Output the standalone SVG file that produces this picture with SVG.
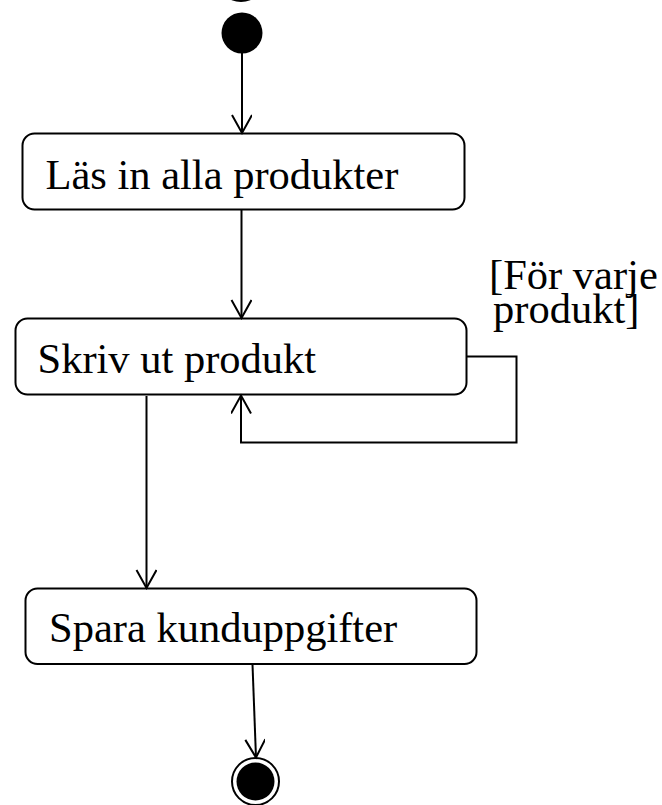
<svg xmlns="http://www.w3.org/2000/svg" width="662" height="805" viewBox="0 0 662 805">
<style>
.box{fill:#fff;stroke:#000;stroke-width:2}
.lbl{font-family:"Liberation Serif","Times New Roman",serif;font-size:42.5px;fill:#000}
.edge{fill:none;stroke:#000;stroke-width:2}
</style>
<defs>
<marker id="arr" markerWidth="24" markerHeight="24" refX="20" refY="10" orient="auto" markerUnits="userSpaceOnUse" viewBox="0 0 24 24">
<path d="M2,0 L20,10 L2,20" fill="none" stroke="#000" stroke-width="2"/>
</marker>
</defs>
<rect width="662" height="805" fill="#fff"/>
<g id="top-fragment"><circle cx="241" cy="-22" r="24" fill="#000"/></g>
<g id="start"><circle cx="242" cy="33" r="20.5" fill="#000"/></g>
<g id="n1">
<rect class="box" x="22.5" y="133.5" width="442" height="76" rx="12"/>
<text class="lbl" x="45.5" y="188.5">Läs in alla produkter</text>
</g>
<g id="n2">
<rect class="box" x="15.5" y="318.5" width="451" height="76" rx="12"/>
<text class="lbl" x="37.5" y="372.5">Skriv ut produkt</text>
</g>
<g id="n3">
<rect class="box" x="25.5" y="588.5" width="451" height="75.5" rx="12"/>
<text class="lbl" x="49" y="641.5">Spara kunduppgifter</text>
</g>
<g id="end">
<circle cx="255.5" cy="781.5" r="23.5" fill="#fff" stroke="#000" stroke-width="2"/>
<circle cx="255.5" cy="781.5" r="19" fill="#000"/>
</g>
<g id="guard">
<text class="lbl" x="489" y="289">[För varje</text>
<text class="lbl" x="493" y="322.5">produkt]</text>
</g>
<g id="connectors">
<line class="edge" x1="242" y1="53" x2="242" y2="133" marker-end="url(#arr)"/>
<line class="edge" x1="241.5" y1="210" x2="241.5" y2="318" marker-end="url(#arr)"/>
<path class="edge" d="M466,356.5 H516.5 V442.5 H241 V395.5" marker-end="url(#arr)"/>
<line class="edge" x1="146.5" y1="396" x2="146.5" y2="588" marker-end="url(#arr)"/>
<line class="edge" x1="252.5" y1="664.5" x2="256" y2="757.5" marker-end="url(#arr)"/>
</g>
</svg>
